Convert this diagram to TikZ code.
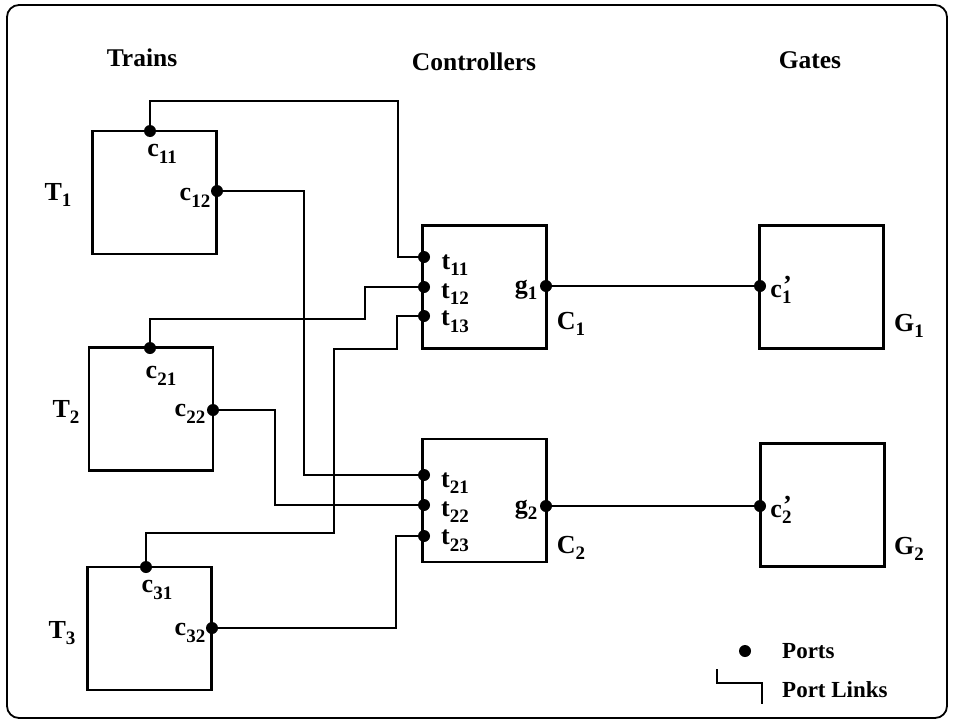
\documentclass[tikz,border=0pt]{standalone}
\usepackage{fontspec}
\setmainfont{Liberation Serif}
\newcommand{\lsub}[1]{\raisebox{-0.55ex}{\fontsize{19}{19}\selectfont #1}}
\newcommand{\lprime}{\rlap{\raisebox{0.3ex}{\kern1pt’}}}
\begin{document}
\begin{tikzpicture}[x=1pt,y=-1pt,
  box/.style={draw, line width=2.2pt, rectangle, inner sep=0pt, outer sep=0pt,
    minimum width=124pt, minimum height=123pt},
  port/.style={circle, fill=black, inner sep=0pt, minimum size=12pt},
  link/.style={line width=1.5pt},
  lbl/.style={inner sep=0pt, font=\fontsize{26}{28}\selectfont\bfseries},
  head/.style={inner sep=0pt, font=\fontsize{25.5}{28}\selectfont\bfseries},
  legtxt/.style={inner sep=0pt, anchor=west, font=\fontsize{23}{25}\selectfont\bfseries}]
\useasboundingbox (0,0) rectangle (954,723);
\draw[line width=1.8pt, rounded corners=12pt] (7,5) rectangle (947,718);

% headings
\node[head] (hT) at (142,58) {Trains};
\node[head] (hC) at (474,62) {Controllers};
\node[head] (hG) at (810,60) {Gates};

% boxes
\node[box] (T1) at (154.5,192.5) {};
\node[box] (T2) at (151,409) {};
\node[box] (T3) at (149.5,628.5) {};
\node[box] (C1) at (484.5,287) {};
\node[box] (C2) at (484.5,500.5) {};
\node[box] (G1) at (821.5,287) {};
\node[box] (G2) at (822.5,505) {};

% port positions
\coordinate (pc11) at (150,131);
\coordinate (pc12) at (217,191);
\coordinate (pc21) at (150,348);
\coordinate (pc22) at (213,410);
\coordinate (pc31) at (146,567);
\coordinate (pc32) at (212,628);
\coordinate (pt11) at (424,257);
\coordinate (pt12) at (424,287);
\coordinate (pt13) at (424,316);
\coordinate (pt21) at (424,475);
\coordinate (pt22) at (424,505);
\coordinate (pt23) at (424,536);
\coordinate (pg1) at (546,286);
\coordinate (pg2) at (546,506);
\coordinate (pcp1) at (760,286);
\coordinate (pcp2) at (760,506);

% links
\draw[link] (pc11) |- (398,101) |- (pt11);
\draw[link] (pc12) -| (304,475) -- (pt21);
\draw[link] (pc21) |- (365,319) |- (pt12);
\draw[link] (pc22) -| (275,505) -- (pt22);
\draw[link] (pc31) |- (334,533) |- (397,349) |- (pt13);
\draw[link] (pc32) -| (396,536) -- (pt23);
\draw[link] (pg1) -- (pcp1);
\draw[link] (pg2) -- (pcp2);

% ports
\foreach \p in {c11,c12,c21,c22,c31,c32,t11,t12,t13,t21,t22,t23,g1,g2,cp1,cp2}
  \node[port] (\p) at (p\p) {};

% labels
\node[lbl] (lT1) at (58,195) {T\lsub{1}};
\node[lbl] (lT2) at (66,412) {T\lsub{2}};
\node[lbl] (lT3) at (62,633) {T\lsub{3}};
\node[lbl] (lc11) at (162,154) {c\lsub{11}};
\node[lbl] (lc12) at (195,198) {c\lsub{12}};
\node[lbl] (lc21) at (161,376) {c\lsub{21}};
\node[lbl] (lc22) at (190,414) {c\lsub{22}};
\node[lbl] (lc31) at (157,590) {c\lsub{31}};
\node[lbl] (lc32) at (190,633) {c\lsub{32}};
\node[lbl] (lt11) at (455,265) {t\lsub{11}};
\node[lbl] (lt12) at (455,294) {t\lsub{12}};
\node[lbl] (lt13) at (455,322) {t\lsub{13}};
\node[lbl] (lt21) at (455,483) {t\lsub{21}};
\node[lbl] (lt22) at (455,512) {t\lsub{22}};
\node[lbl] (lt23) at (455,541) {t\lsub{23}};
\node[lbl] (lg1) at (526,290) {g\lsub{1}};
\node[lbl] (lg2) at (526,510) {g\lsub{2}};
\node[lbl] (lC1) at (571,324) {C\lsub{1}};
\node[lbl] (lC2) at (571,548) {C\lsub{2}};
\node[lbl] (lcp1) at (781,290) {c\lprime\lsub{1}};
\node[lbl] (lcp2) at (781,510) {c\lprime\lsub{2}};
\node[lbl] (lG1) at (909,326) {G\lsub{1}};
\node[lbl] (lG2) at (909,549) {G\lsub{2}};

% legend
\node[port] (legdot) at (745,651) {};
\node[legtxt] (legports) at (782,651) {Ports};
\coordinate (lk1) at (717,669);
\coordinate (lk2) at (762,704);
\draw[link] (lk1) |- (762,683) -- (lk2);
\node[legtxt] (leglinks) at (782,690) {Port Links};
\end{tikzpicture}
\end{document}
